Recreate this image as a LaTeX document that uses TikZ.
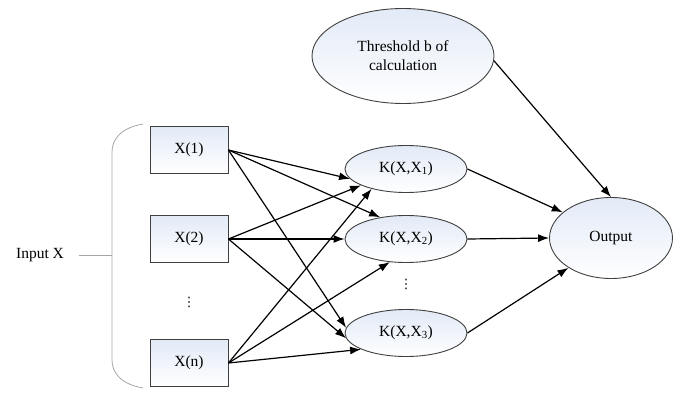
\documentclass[tikz,border=0pt]{standalone}
\usepackage{fontspec}
\setmainfont{Liberation Serif}
\newfontfamily\symfont{DejaVu Sans}
\usepackage{xcolor}
\usepackage{tikz}
\usetikzlibrary{positioning,arrows.meta,shapes.geometric}

\definecolor{nodetop}{RGB}{226,234,247}

\begin{document}
\begin{tikzpicture}
[x=1pt, y=-1pt, font=\fontsize{15.5}{19}\selectfont,
    inbox/.style={rectangle, top color=nodetop, bottom color=white,
    draw=black!75, line width=0.9pt, minimum width=78pt, minimum height=47pt,
    inner sep=0pt, align=center},
    kernel/.style={ellipse, top color=nodetop, bottom color=white,
    draw=black!75, line width=0.9pt, minimum width=122pt, minimum height=47pt,
    inner sep=0pt, align=center},
    vdots/.style={inner sep=0pt, font=\symfont\fontsize{13}{13}\selectfont},
    link/.style={draw=black, line width=1.2pt, -{Latex[length=11pt,width=8pt]}},
    brace/.style={draw=black!35, line width=0.8pt}
    ]
    \useasboundingbox (0,0) rectangle (680,393);

    % inputs
    \node[inbox] (x1) at (189,150) {X(1)};
    \node[inbox] (x2) at (189,239) {X(2)};
    \node[vdots] (xdots) at (189,302) {⋮};
    \node[inbox] (xn) at (189,363) {X(n)};

    \node (input) at (40,255) {Input X};
    \coordinate (mid) at (112,255);
    \draw[brace] (143,124) .. controls (120,128) and (112,140) .. (112,152)
        -- (112,360) .. controls (112,372) and (120,384) .. (143,388);
    \draw[brace] (input.east) ++(12,0) -- (mid);

    % kernels
    \node[kernel] (k1) at (406,169) {K(X,X\textsubscript{1})};
    \node[kernel] (k2) at (406,239) {K(X,X\textsubscript{2})};
    \node[vdots] (kdots) at (406,284) {⋮};
    \node[kernel] (k3) at (406,333) {K(X,X\textsubscript{3})};

    \node[kernel, minimum width=182pt, minimum height=95pt] (thr) at (403,56)
        {Threshold b of\\calculation};
    \node[kernel, minimum width=123pt, minimum height=81pt] (out) at (611,238)
        {Output};

    \draw[link] (x1.east) -- (k1.190);
    \draw[link] (x1.east) -- (k2.140);
    \draw[link] (x1.east) -- (k3.175);
    \draw[link] (x2.east) -- (k1.200);
    \draw[link] (x2.east) -- (k2.west);
    \draw[link] (x2.east) -- (k3.185);
    \draw[link] (xn.east) -- (k1.210);
    \draw[link] (xn.east) -- (k2.235);
    \draw[link] (xn.east) -- (k3.200);

    \draw[link] (k1.east) -- (out.152);
    \draw[link] (k2.east) -- (out.west);
    \draw[link] (k3.east) -- (out.215);
    \draw[link] (thr.-3) -- (out.north);
\end{tikzpicture}
\end{document}
